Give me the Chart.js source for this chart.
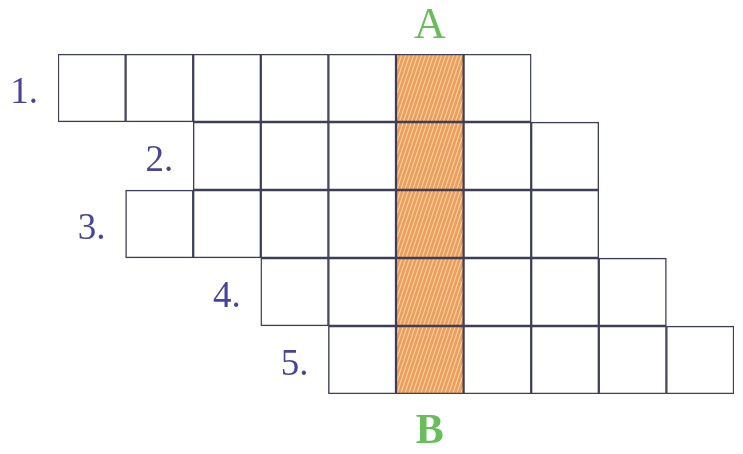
<!DOCTYPE html>
<html>
<head>
<meta charset="utf-8">
<script src="https://cdn.jsdelivr.net/npm/chart.js@4"></script>
<style>
  html, body { margin: 0; padding: 0; background: #fff; }
  #wrap { width: 743px; height: 454px; }
</style>
</head>
<body>
<div id="wrap"><canvas id="grid"></canvas></div>
<script>
// crossword layout: 10 columns, 5 rows
const columns = ['c0', 'c1', 'c2', 'c3', 'c4', 'c5', 'c6', 'c7', 'c8', 'c9'];
const rowLabels = ['1.', '2.', '3.', '4.', '5.'];
const rowStart = [0, 2, 1, 3, 4];
const rowLength = [7, 6, 7, 6, 6];
const keyColumn = 5;
const keyLabels = ['A', 'B'];

function makeHatch() {
  const tile = document.createElement('canvas');
  tile.width = 4;
  tile.height = 12;
  const c = tile.getContext('2d');
  c.fillStyle = '#ee9e5c';
  c.fillRect(0, 0, 4, 12);
  c.strokeStyle = '#fcd3a2';
  c.lineWidth = 1.1;
  for (const dx of [-4, 0, 4]) {
    c.beginPath();
    c.moveTo(-1 + dx, 15);
    c.lineTo(5 + dx, -3);
    c.stroke();
  }
  return c.createPattern(tile, 'repeat');
}

const datasets = [];
rowLabels.forEach((label, r) => {
  const data = columns.map((_, i) =>
    i >= rowStart[r] && i < rowStart[r] + rowLength[r] ? [r, r + 1] : null);
  datasets.push({
    label: label,
    data: data,
    backgroundColor: 'rgba(0,0,0,0)',
    borderColor: '#3e3e58',
    borderWidth: 0.8,
    borderSkipped: false,
    order: 0
  });
});

// the shaded key column (A -> B)
datasets.push({
  label: keyLabels.join('-'),
  data: columns.map((_, i) => i === keyColumn ? [0, rowLabels.length] : null),
  backgroundColor: makeHatch(),
  borderColor: '#3e3e58',
  borderWidth: 0.8,
  borderSkipped: false,
  order: 1
});

const labelPlugin = {
  id: 'labels',
  afterDatasetsDraw(chart) {
    const ctx = chart.ctx;
    const xs = chart.scales.x;
    const ys = chart.scales.y;
    const half = (xs.getPixelForValue(1) - xs.getPixelForValue(0)) / 2;
    ctx.save();
    ctx.font = '37px "Liberation Serif"';
    ctx.fillStyle = '#46459a';
    ctx.textAlign = 'right';
    ctx.textBaseline = 'middle';
    rowLabels.forEach((label, r) => {
      const x = xs.getPixelForValue(rowStart[r]) - half - 20;
      const y = ys.getPixelForValue(r + 0.5) + 5;
      ctx.fillText(label, x, y);
    });
    ctx.font = '44px "Liberation Serif"';
    ctx.fillStyle = '#6abd5b';
    ctx.textAlign = 'center';
    const kx = xs.getPixelForValue(keyColumn);
    ctx.fillText(keyLabels[0], kx, ys.getPixelForValue(0) - 28);
    ctx.font = 'bold 42px "Liberation Serif"';
    ctx.fillText(keyLabels[1], kx, ys.getPixelForValue(rowLabels.length) + 38);
    ctx.restore();
  }
};

new Chart(document.getElementById('grid'), {
  type: 'bar',
  data: { labels: columns, datasets: datasets },
  options: {
    responsive: true,
    maintainAspectRatio: false,
    animation: false,
    layout: { padding: { left: 58, right: 9, top: 54, bottom: 60 } },
    datasets: { bar: { barPercentage: 1, categoryPercentage: 1 } },
    scales: {
      x: { display: false, stacked: true },
      y: { display: false, stacked: false, reverse: true, min: 0, max: rowLabels.length }
    },
    plugins: { legend: { display: false }, tooltip: { enabled: false } }
  },
  plugins: [labelPlugin]
});
</script>
</body>
</html>
